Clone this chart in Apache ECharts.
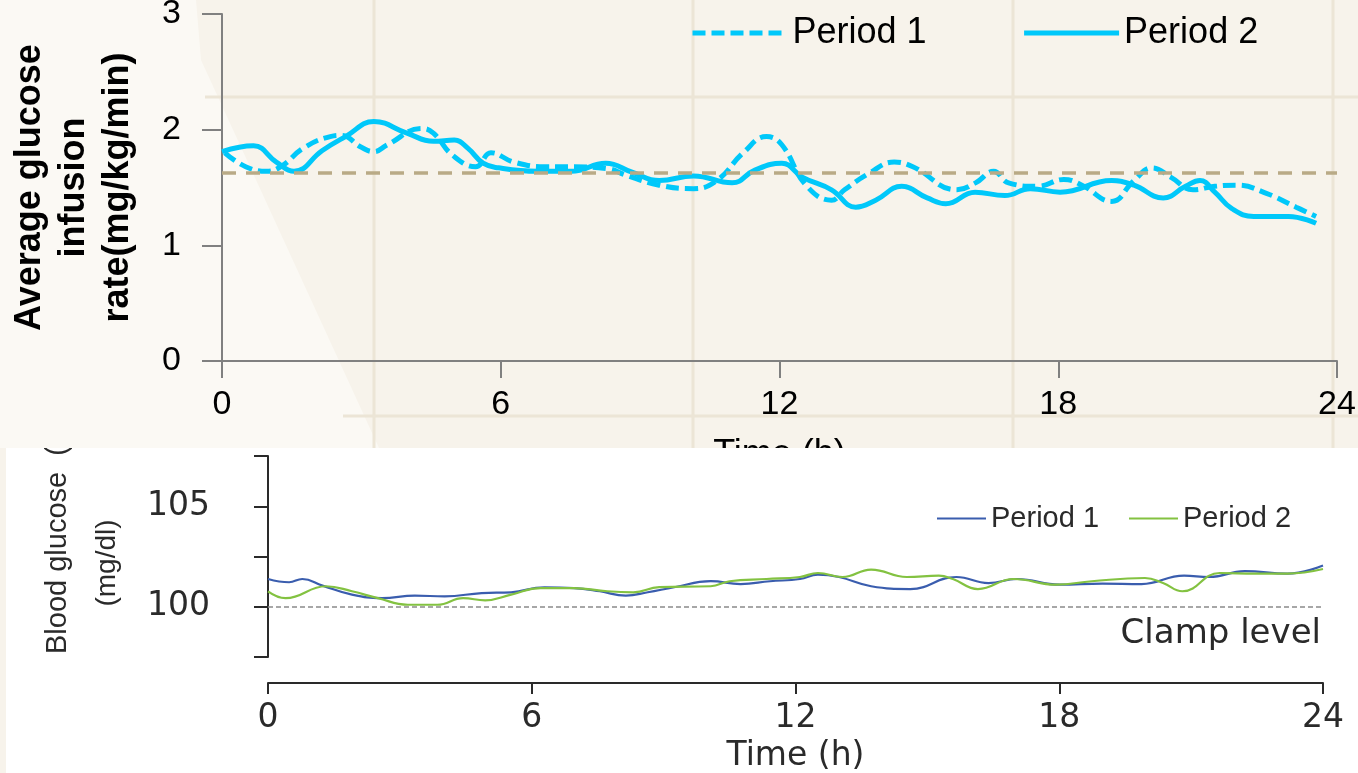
<!DOCTYPE html>
<html>
<head>
<meta charset="utf-8">
<script src="https://cdn.jsdelivr.net/npm/echarts@6/dist/echarts.min.js"></script>
<style>
  html, body { margin: 0; padding: 0; width: 1358px; height: 773px; overflow: hidden; background: #f7f3eb; }
  #infusion { position: absolute; left: 0; top: 0; width: 1358px; height: 448px; }
  #glucose { position: absolute; left: 6px; top: 448px; width: 1352px; height: 325px; background: #ffffff; }
</style>
</head>
<body>
<div id="infusion"></div>
<div id="glucose"></div>
<script>
// ---- Average glucose infusion rate (mg/kg/min) over 24 h ----
const hourTicks = [0, 6, 12, 18, 24];
const infusionTicks = [0, 1, 2, 3];
const infusionTarget = 1.63;

// [hour, rate]
const infusionPeriod1 = [
  [0.06, 1.80], [0.51, 1.68], [0.97, 1.64], [1.30, 1.69], [1.75, 1.84], [2.33, 1.94],
  [2.57, 1.95], [2.99, 1.85], [3.27, 1.81], [3.56, 1.87], [4.30, 2.01], [4.55, 1.97],
  [4.96, 1.78], [5.46, 1.68], [5.79, 1.80], [6.28, 1.72], [6.94, 1.68], [7.44, 1.68],
  [8.34, 1.66], [8.67, 1.61], [9.41, 1.52], [10.15, 1.49], [10.65, 1.56], [11.22, 1.80],
  [11.72, 1.94], [12.05, 1.87], [12.57, 1.52], [13.12, 1.39], [13.40, 1.48], [13.92, 1.62],
  [14.47, 1.72], [14.87, 1.68], [15.82, 1.48], [16.22, 1.54], [16.61, 1.64], [16.93, 1.54],
  [17.56, 1.51], [18.12, 1.57], [18.51, 1.52], [19.15, 1.38], [19.63, 1.56], [20.02, 1.67],
  [20.42, 1.59], [20.90, 1.48], [21.37, 1.51], [21.85, 1.52], [22.48, 1.45], [23.12, 1.33],
  [23.55, 1.25]
];
const infusionPeriod2 = [
  [0.00, 1.81], [0.68, 1.86], [1.17, 1.72], [1.55, 1.64], [2.16, 1.82], [2.66, 1.94],
  [3.27, 2.07], [3.98, 1.97], [4.55, 1.90], [5.00, 1.91], [5.29, 1.84], [5.62, 1.71],
  [5.95, 1.67], [6.78, 1.64], [7.52, 1.64], [8.26, 1.71], [8.84, 1.63], [9.41, 1.56],
  [10.15, 1.60], [10.98, 1.54], [11.47, 1.65], [12.05, 1.71], [12.49, 1.59], [13.12, 1.48],
  [13.64, 1.33], [14.07, 1.39], [14.63, 1.51], [15.18, 1.41], [15.58, 1.36], [16.21, 1.46],
  [16.85, 1.43], [17.40, 1.49], [18.04, 1.46], [19.15, 1.56], [19.63, 1.52], [20.26, 1.41],
  [20.74, 1.51], [21.05, 1.56], [21.37, 1.46], [21.73, 1.32], [22.21, 1.25], [22.96, 1.25],
  [23.55, 1.19]
];

// ---- Blood glucose (mg/dl) over 24 h ----
const glucoseTickLabels = [100, 105];
const clampLevel = 100;

// [hour, mg/dl]
const glucosePeriod1 = [
  [0, 101.38], [0.48, 101.22], [0.78, 101.38], [1.24, 101.05], [1.91, 100.60], [2.59, 100.43],
  [3.34, 100.55], [4.02, 100.52], [4.86, 100.68], [5.53, 100.72], [6.29, 100.97], [6.96, 100.93],
  [7.55, 100.77], [8.14, 100.55], [8.64, 100.72], [9.24, 100.97], [10.07, 101.27], [10.75, 101.13],
  [11.42, 101.27], [12.10, 101.38], [12.51, 101.60], [12.99, 101.48], [13.72, 101.02], [14.61, 100.88],
  [15.66, 101.48], [16.39, 101.18], [17.04, 101.38], [18.01, 101.10], [18.98, 101.15], [19.87, 101.13],
  [20.84, 101.55], [21.41, 101.48], [22.22, 101.77], [23.19, 101.65], [24.00, 102.05]
];
const glucosePeriod2 = [
  [0, 100.77], [0.40, 100.43], [1.32, 101.02], [1.91, 100.77], [2.50, 100.43], [3.18, 100.10],
  [3.85, 100.10], [4.44, 100.43], [4.94, 100.32], [5.53, 100.60], [6.20, 100.93], [6.96, 100.93],
  [7.72, 100.77], [8.31, 100.72], [8.90, 100.98], [10.07, 101.02], [10.50, 101.27], [11.34, 101.38],
  [12.10, 101.48], [12.51, 101.68], [13.07, 101.48], [13.72, 101.85], [14.53, 101.48], [15.26, 101.55],
  [15.58, 101.38], [16.15, 100.88], [16.96, 101.38], [17.93, 101.10], [18.74, 101.27], [19.95, 101.43],
  [20.36, 101.18], [20.80, 100.77], [21.65, 101.68], [22.46, 101.65], [23.19, 101.65], [24.00, 101.88]
];

// ---------------------------------------------------------------
const SANS = 'Liberation Sans, Arial, Helvetica, sans-serif';
const WIDE = 'DejaVu Sans, Liberation Sans, sans-serif';
const CYAN = '#00c8fa';
const AXIS_GREY = '#808080';

const infusionChart = echarts.init(document.getElementById('infusion'), null, { renderer: 'canvas' });
infusionChart.setOption({
  animation: false,
  textStyle: { fontFamily: SANS },
  graphic: [
    // lighter wash on the left of the sheet
    { type: 'polygon', z: -5, silent: true,
      shape: { points: [[0, 0], [196, 0], [201, 60], [379, 448], [0, 448]] },
      style: { fill: '#fbf9f4' } },
    // faint ruled lines of the backdrop
    { type: 'line', z: -4, silent: true, shape: { x1: 374, y1: 0, x2: 374, y2: 448 }, style: { stroke: '#ece5d6', lineWidth: 3 } },
    { type: 'line', z: -4, silent: true, shape: { x1: 693, y1: 0, x2: 693, y2: 448 }, style: { stroke: '#ece5d6', lineWidth: 3 } },
    { type: 'line', z: -4, silent: true, shape: { x1: 1013, y1: 0, x2: 1013, y2: 448 }, style: { stroke: '#ece5d6', lineWidth: 3 } },
    { type: 'line', z: -4, silent: true, shape: { x1: 1333, y1: 0, x2: 1333, y2: 448 }, style: { stroke: '#ece5d6', lineWidth: 3 } },
    { type: 'line', z: -4, silent: true, shape: { x1: 205, y1: 97, x2: 1358, y2: 97 }, style: { stroke: '#ece5d6', lineWidth: 3 } },
    { type: 'line', z: -4, silent: true, shape: { x1: 343, y1: 416, x2: 1358, y2: 416 }, style: { stroke: '#ece5d6', lineWidth: 3 } }
  ],
  grid: { left: 222, top: 14, width: 1115, height: 347, outerBoundsMode: 'none', containLabel: false },
  legend: {
    left: 690, top: 15, padding: 0,
    itemWidth: 95, itemHeight: 14, itemGap: 95,
    data: ['Period 1', 'Period 2'],
    itemStyle: { opacity: 0, borderWidth: 0 },
    lineStyle: { width: 5 },
    textStyle: { fontSize: 36, color: '#000', fontFamily: SANS }
  },
  xAxis: {
    type: 'value', min: hourTicks[0], max: hourTicks[hourTicks.length - 1], interval: 6,
    axisLine: { lineStyle: { color: AXIS_GREY, width: 2 } },
    axisTick: { length: 17, lineStyle: { color: AXIS_GREY, width: 2 } },
    splitLine: { show: false },
    axisLabel: { fontSize: 34, color: '#000', margin: 27, formatter: v => hourTicks.includes(v) ? String(v) : '' },
    name: 'Time (h)', nameLocation: 'middle', nameGap: 76,
    nameTextStyle: { fontSize: 36, color: '#000' }
  },
  yAxis: {
    type: 'value', min: infusionTicks[0], max: infusionTicks[infusionTicks.length - 1], interval: 1,
    axisLine: { show: true, lineStyle: { color: AXIS_GREY, width: 2 } },
    axisTick: { show: true, length: 20, lineStyle: { color: AXIS_GREY, width: 2 } },
    splitLine: { show: false },
    axisLabel: { fontSize: 34, color: '#000', margin: 41 },
    name: 'Average glucose\ninfusion\nrate(mg/kg/min)', nameLocation: 'middle', nameGap: 82,
    nameTextStyle: { fontSize: 36, fontWeight: 'bold', color: '#000', lineHeight: 44, align: 'center' }
  },
  series: [
    {
      name: 'Target', type: 'line', data: [], z: 1, silent: true,
      markLine: {
        silent: true, symbol: 'none', label: { show: false },
        lineStyle: { color: '#b9aa86', width: 3.5, type: [14, 10] },
        data: [{ yAxis: infusionTarget }]
      }
    },
    {
      name: 'Period 1', type: 'line', data: infusionPeriod1, smooth: 0.45, symbol: 'none', z: 3,
      lineStyle: { color: CYAN, width: 5, type: [13, 6] }, itemStyle: { color: CYAN }
    },
    {
      name: 'Period 2', type: 'line', data: infusionPeriod2, smooth: 0.45, symbol: 'none', z: 3,
      lineStyle: { color: CYAN, width: 5 }, itemStyle: { color: CYAN }
    }
  ]
});

// ---------------------------------------------------------------
const BLUE = '#3a5dae';
const GREEN = '#83c241';
const INK = '#2a2a2a';

const glucoseChart = echarts.init(document.getElementById('glucose'), null, { renderer: 'canvas' });
glucoseChart.setOption({
  animation: false,
  textStyle: { fontFamily: WIDE },
  graphic: [
    { type: 'text', x: 52, y: 206, rotation: Math.PI / 2, silent: true,
      style: { text: 'Blood glucose  (', fontSize: 29, fontFamily: SANS, fill: INK, align: 'left', verticalAlign: 'middle' } },
    { type: 'text', x: 101, y: 115, rotation: Math.PI / 2, silent: true,
      style: { text: '(mg/dl)', fontSize: 28, fontFamily: SANS, fill: INK, align: 'center', verticalAlign: 'middle' } }
  ],
  grid: { left: 262, top: 8, width: 1055, height: 201, outerBoundsMode: 'none', containLabel: false },
  legend: {
    left: 930, top: 56, padding: 0,
    itemWidth: 49, itemHeight: 14, itemGap: 29,
    data: ['Period 1', 'Period 2'],
    itemStyle: { opacity: 0, borderWidth: 0 },
    lineStyle: { width: 2 },
    textStyle: { fontSize: 29, color: INK, fontFamily: SANS }
  },
  xAxis: {
    type: 'value', min: hourTicks[0], max: hourTicks[hourTicks.length - 1], interval: 6, offset: 26,
    axisLine: { lineStyle: { color: INK, width: 2 } },
    axisTick: { length: 11, lineStyle: { color: INK, width: 2 } },
    splitLine: { show: false },
    axisLabel: { fontSize: 33, color: INK, margin: 19, formatter: v => hourTicks.includes(v) ? String(v) : '' },
    name: 'Time (h)', nameLocation: 'middle', nameGap: 56,
    nameTextStyle: { fontSize: 33, color: INK }
  },
  yAxis: {
    type: 'value', min: 97.5, max: 107.5, interval: 2.5, offset: 34,
    axisLine: { show: true, lineStyle: { color: INK, width: 2 } },
    axisTick: { show: true, length: 14, lineStyle: { color: INK, width: 2 } },
    splitLine: { show: false },
    axisLabel: { fontSize: 33, color: INK, margin: 24, formatter: v => glucoseTickLabels.includes(v) ? String(v) : '' }
  },
  series: [
    {
      name: 'Clamp', type: 'line', data: [], z: 1, silent: true,
      markLine: {
        silent: true, symbol: 'none',
        lineStyle: { color: '#8a8a8a', width: 1.5, type: [5, 3] },
        label: { show: true, position: 'insideEndBottom', formatter: 'Clamp level', fontSize: 34, color: INK, fontFamily: WIDE, distance: [2, 10] },
        data: [{ yAxis: clampLevel }]
      }
    },
    {
      name: 'Period 1', type: 'line', data: glucosePeriod1, smooth: 0.45, symbol: 'none', z: 3,
      lineStyle: { color: BLUE, width: 2.2 }, itemStyle: { color: BLUE }
    },
    {
      name: 'Period 2', type: 'line', data: glucosePeriod2, smooth: 0.45, symbol: 'none', z: 3,
      lineStyle: { color: GREEN, width: 2.2 }, itemStyle: { color: GREEN }
    }
  ]
});
</script>
</body>
</html>
